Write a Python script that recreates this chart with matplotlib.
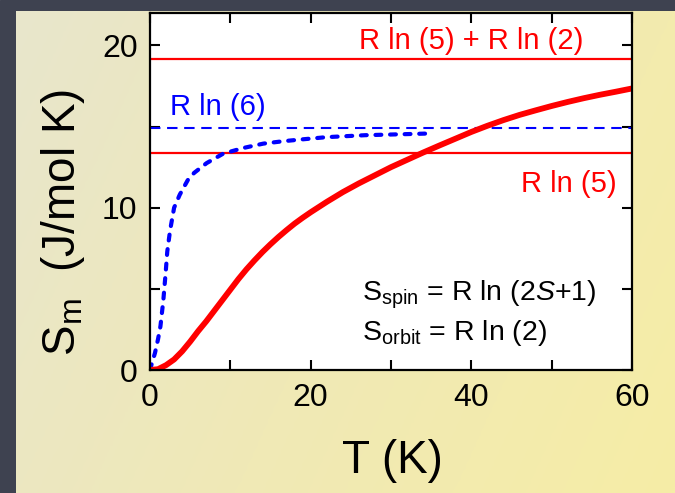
#!/usr/bin/env python3
"""
Magnetic entropy S_m(T) against the spin / orbital entropy limits
"""
import numpy as np
import matplotlib.pyplot as plt
from matplotlib.colors import LinearSegmentedColormap

plt.rcParams['font.family'] = ['Liberation Sans', 'DejaVu Sans']
plt.rcParams['mathtext.fontset'] = 'custom'
plt.rcParams['mathtext.rm'] = 'Liberation Sans'
plt.rcParams['mathtext.it'] = 'Liberation Sans:italic'

R = 8.314

# Measured magnetic entropy (solid red)
t_meas = [0, 1, 2, 3, 4, 5, 6, 7, 8, 9, 10, 11, 12, 13, 14, 15, 16, 17, 18,
          19, 20, 22, 24, 26, 28, 30, 32, 34, 36, 38, 40, 42, 44, 46, 48, 50,
          52, 54, 56, 58, 60]
s_meas = [0.0, 0.05, 0.3, 0.65, 1.15, 1.75, 2.4, 3.0, 3.65, 4.3, 4.95, 5.6,
          6.2, 6.75, 7.27, 7.75, 8.2, 8.62, 9.02, 9.38, 9.72, 10.36, 10.96,
          11.5, 12.0, 12.5, 12.95, 13.4, 13.83, 14.25, 14.67, 15.05, 15.4,
          15.72, 16.0, 16.27, 16.52, 16.75, 16.96, 17.15, 17.35]

# Spin-only model curve (blue dotted)
t_model = [0.0, 0.2, 0.62, 1.0, 1.3, 1.66, 1.95, 2.15, 2.5, 3.0, 3.7, 4.7,
           5.5, 7.05, 9.1, 11.6, 14.1, 16.6, 19.1, 22.0, 26.8, 32.2, 35.2]
s_model = [0.0, 0.35, 1.05, 1.9, 2.7, 4.3, 6.0, 7.3, 8.6, 10.0, 10.8, 11.7,
           12.15, 12.75, 13.33, 13.68, 13.95, 14.1, 14.22, 14.35, 14.47,
           14.54, 14.58]

# Entropy limits
s_ln5 = R * np.log(5)
s_ln6 = R * np.log(6)
s_ln10 = R * np.log(5) + R * np.log(2)

x_ticks = [0, 20, 40, 60]
y_ticks = [0, 10, 20]

fig = plt.figure(figsize=(6.75, 4.93), dpi=100)

# Slide-style backdrop: dark slate frame with a pale yellow panel
bg = fig.add_axes([0, 0, 1, 1], zorder=-10)
bg.axis('off')
bg.add_patch(plt.Rectangle((0, 0), 675, 493, color='#3e4250', zorder=0))
panel_cmap = LinearSegmentedColormap.from_list('panel', ['#e8e6cc', '#f0e9b6', '#f6eda6'])
gx = np.linspace(0, 1, 256)
gy = np.linspace(0, 1, 128)
grad = 0.75 * gx[None, :] + 0.25 * gy[:, None]
bg.imshow(grad, cmap=panel_cmap, extent=[16, 675, 493, 11], aspect='auto',
          interpolation='bilinear', zorder=1)
bg.set_xlim(0, 675)
bg.set_ylim(493, 0)

ax = fig.add_axes([150 / 675, 1 - 370 / 493, 482 / 675, 357 / 493])
ax.set_facecolor('white')

ax.axhline(s_ln10, color='#ff0000', lw=1.6)
ax.axhline(s_ln5, color='#ff0000', lw=1.6)
ax.axhline(s_ln6, color='#0000ff', lw=1.5, dashes=(5, 3.2))

ax.plot(t_model, s_model, color='#0000ff', lw=3.0, dashes=(1.4, 2.1),
        dash_capstyle='round')
ax.plot(t_meas, s_meas, color='#ff0000', lw=4.2, solid_capstyle='butt')

ax.text(26.0, 19.8, 'R ln (5) + R ln (2)', color='#ff0000', fontsize=21)
ax.text(2.5, 15.7, 'R ln (6)', color='#0000ff', fontsize=21)
ax.text(46.2, 11.0, 'R ln (5)', color='#ff0000', fontsize=21)
ax.text(26.4, 4.3, r'S$_{\mathregular{spin}}$ = R ln (2$\mathit{S}$+1)', fontsize=20.5)
ax.text(26.4, 1.85, r'S$_{\mathregular{orbit}}$ = R ln (2)', fontsize=20.5)

ax.set_xlim(0, 60)
ax.set_ylim(0, 22)
ax.set_xticks(np.arange(0, 61, 10))
ax.set_xticklabels([str(v) if v in x_ticks else '' for v in range(0, 61, 10)])
ax.set_yticks(np.arange(0, 21, 5))
ax.set_yticklabels([str(v) if v in y_ticks else '' for v in range(0, 21, 5)])
ax.tick_params(direction='in', length=7, width=1.5, labelsize=23,
               top=True, right=True, pad=9)
for sp in ax.spines.values():
    sp.set_linewidth(1.6)

ax.set_xlabel('T (K)', fontsize=33)
ax.xaxis.label.set_verticalalignment('baseline')
ax.xaxis.set_label_coords(0.502, -0.2885)
ax.set_ylabel(r'S$_{\mathregular{m}}$  (J/mol K)', fontsize=33)
ax.yaxis.label.set_verticalalignment('center')
ax.yaxis.set_label_coords(-0.1815, 0.412)

fig.savefig('out.png', dpi=100)
